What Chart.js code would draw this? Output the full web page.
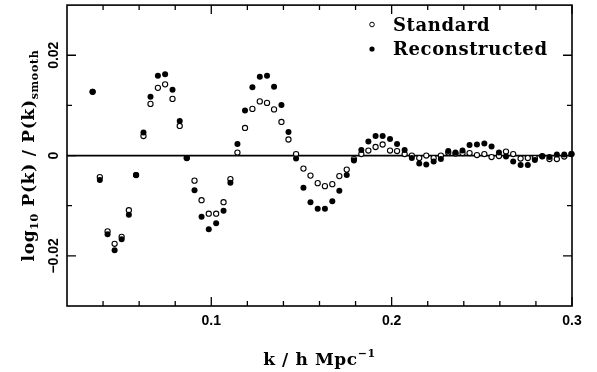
<!DOCTYPE html>
<html>
<head>
<meta charset="utf-8">
<script src="https://cdn.jsdelivr.net/npm/chart.js@4.4.1/dist/chart.umd.min.js"></script>
<style>
html, body { margin: 0; padding: 0; background: #fff; }
#wrap { width: 597px; height: 372px; }
</style>
</head>
<body>
<div id="wrap"><canvas id="myCanvas"></canvas></div>
<script>
// k values (h/Mpc) of the measured bins
var kValues = [0.0342, 0.0382, 0.0425, 0.0464, 0.0503, 0.0543, 0.0583, 0.0624, 0.0663, 0.0704,
    0.0744, 0.0785, 0.0825, 0.0864, 0.0907, 0.0946, 0.0986, 0.1027, 0.1068, 0.1106,
    0.1145, 0.1187, 0.1228, 0.1269, 0.1309, 0.1348, 0.1389, 0.1428, 0.1470, 0.1511,
    0.1550, 0.1590, 0.1630, 0.1671, 0.1710, 0.1751, 0.1791, 0.1832, 0.1871, 0.1911,
    0.1950, 0.1991, 0.2030, 0.2072, 0.2112, 0.2153, 0.2192, 0.2233, 0.2273, 0.2314,
    0.2354, 0.2393, 0.2432, 0.2473, 0.2514, 0.2554, 0.2595, 0.2634, 0.2674, 0.2715,
    0.2755, 0.2794, 0.2835, 0.2875, 0.2916, 0.2957, 0.2997];

// log10 P(k)/P(k)smooth, open circles
var standard = [0.0127, -0.0043, -0.0151, -0.0176, -0.0162, -0.0109, -0.0039, 0.0039, 0.0103, 0.0135,
    0.0142, 0.0113, 0.0059, -0.0005, -0.0050, -0.0089, -0.0116, -0.0116, -0.0093, -0.0047,
    0.0006, 0.0055, 0.0093, 0.0108, 0.0105, 0.0092, 0.0067, 0.0032, 0.0003, -0.0026,
    -0.0040, -0.0055, -0.0061, -0.0057, -0.0041, -0.0028, -0.0007, 0.0003, 0.0010, 0.0017,
    0.0022, 0.0010, 0.0009, 0.0003, 0.0000, -0.0005, 0.0000, -0.0005, 0.0000, 0.0006,
    0.0004, 0.0005, 0.0005, 0.0001, 0.0003, -0.0003, -0.0001, 0.0008, 0.0003, -0.0006,
    -0.0005, -0.0005, -0.0001, -0.0007, -0.0007, -0.0002, 0.0003];

// filled circles
var reconstructed = [0.0127, -0.0049, -0.0157, -0.0189, -0.0167, -0.0118, -0.0039, 0.0046, 0.0117, 0.0159,
    0.0162, 0.0131, 0.0069, -0.0005, -0.0069, -0.0122, -0.0147, -0.0135, -0.0110, -0.0054,
    0.0023, 0.0090, 0.0136, 0.0157, 0.0159, 0.0137, 0.0101, 0.0047, -0.0006, -0.0064,
    -0.0093, -0.0106, -0.0106, -0.0091, -0.0070, -0.0039, -0.0010, 0.0011, 0.0028, 0.0039,
    0.0039, 0.0033, 0.0023, 0.0011, -0.0005, -0.0016, -0.0018, -0.0012, -0.0007, 0.0009,
    0.0006, 0.0010, 0.0021, 0.0022, 0.0024, 0.0018, 0.0006, -0.0002, -0.0012, -0.0019,
    -0.0019, -0.0009, -0.0002, -0.0003, 0.0002, 0.0002, 0.0003];

var seriesNames = ['Standard', 'Reconstructed'];

var xRange = [0.02, 0.3];
var yRange = [-0.03, 0.03];
var xLabelTicks = [0.1, 0.2, 0.3];
var xTickLabels = ['0.1', '0.2', '0.3'];
var xMinorTicks = [0.04, 0.06, 0.08, 0.12, 0.14, 0.16, 0.18, 0.22, 0.24, 0.26, 0.28];
var yLabelTicks = [-0.02, 0, 0.02];
var yTickLabels = ['\u22120.02', '0', '0.02'];
var yMinorTicks = [-0.01, 0.01];

function toPoints(xs, ys) {
    var pts = [];
    for (var i = 0; i < xs.length; i++) {
        pts.push({x: xs[i], y: ys[i]});
    }
    return pts;
}

// draws a list of text pieces (for sub/superscripts), centred at 0,0
function drawPieces(ctx, pieces, spacing) {
    var total = 0;
    var i;
    ctx.letterSpacing = spacing + 'px';
    for (i = 0; i < pieces.length; i++) {
        ctx.font = pieces[i].font;
        pieces[i].w = ctx.measureText(pieces[i].text).width;
        total += pieces[i].w;
    }
    var x = -total / 2;
    ctx.textAlign = 'left';
    ctx.textBaseline = 'alphabetic';
    for (i = 0; i < pieces.length; i++) {
        ctx.font = pieces[i].font;
        ctx.fillText(pieces[i].text, x, pieces[i].dy);
        x += pieces[i].w;
    }
    ctx.letterSpacing = '0px';
}

var framePlugin = {
    id: 'frame',
    afterDatasetsDraw: function(chart) {
        var ctx = chart.ctx;
        var a = chart.chartArea;
        var xs = chart.scales.x;
        var ys = chart.scales.y;
        var i, p;
        ctx.save();
        ctx.strokeStyle = '#000';
        ctx.fillStyle = '#000';
        ctx.lineWidth = 1.6;
        ctx.strokeRect(a.left, a.top, a.right - a.left, a.bottom - a.top);

        ctx.lineWidth = 1.3;
        ctx.beginPath();
        for (i = 0; i < xLabelTicks.length; i++) {
            p = xs.getPixelForValue(xLabelTicks[i]);
            ctx.moveTo(p, a.bottom); ctx.lineTo(p, a.bottom - 9);
            ctx.moveTo(p, a.top); ctx.lineTo(p, a.top + 9);
        }
        for (i = 0; i < xMinorTicks.length; i++) {
            p = xs.getPixelForValue(xMinorTicks[i]);
            ctx.moveTo(p, a.bottom); ctx.lineTo(p, a.bottom - 5);
            ctx.moveTo(p, a.top); ctx.lineTo(p, a.top + 5);
        }
        for (i = 0; i < yLabelTicks.length; i++) {
            p = ys.getPixelForValue(yLabelTicks[i]);
            ctx.moveTo(a.left, p); ctx.lineTo(a.left + 9, p);
            ctx.moveTo(a.right, p); ctx.lineTo(a.right - 9, p);
        }
        for (i = 0; i < yMinorTicks.length; i++) {
            p = ys.getPixelForValue(yMinorTicks[i]);
            ctx.moveTo(a.left, p); ctx.lineTo(a.left + 5, p);
            ctx.moveTo(a.right, p); ctx.lineTo(a.right - 5, p);
        }
        ctx.stroke();

        // tick labels
        ctx.font = 'bold 14px "Liberation Sans", Arial, sans-serif';
        ctx.textAlign = 'center';
        ctx.textBaseline = 'alphabetic';
        for (i = 0; i < xLabelTicks.length; i++) {
            ctx.fillText(xTickLabels[i], xs.getPixelForValue(xLabelTicks[i]), a.bottom + 19);
        }
        for (i = 0; i < yLabelTicks.length; i++) {
            ctx.save();
            ctx.translate(a.left - 9, ys.getPixelForValue(yLabelTicks[i]));
            ctx.rotate(-Math.PI / 2);
            ctx.fillText(yTickLabels[i], 0, 0);
            ctx.restore();
        }

        // axis titles
        var big = 'bold 17px "DejaVu Serif", serif';
        var small = 'bold 11px "DejaVu Serif", serif';
        ctx.save();
        ctx.translate((a.left + a.right) / 2, a.bottom + 59);
        drawPieces(ctx, [
            {text: 'k / h Mpc', font: big, dy: 0},
            {text: '\u22121', font: small, dy: -8}
        ], 0.6);
        ctx.restore();

        ctx.save();
        ctx.translate(34, (a.top + a.bottom) / 2);
        ctx.rotate(-Math.PI / 2);
        drawPieces(ctx, [
            {text: 'log', font: big, dy: 0},
            {text: '10', font: small, dy: 4},
            {text: ' P(k) / P(k)', font: big, dy: 0},
            {text: 'smooth', font: small, dy: 4}
        ], 0.7);
        ctx.restore();

        // legend
        ctx.font = 'bold 18px "DejaVu Serif", serif';
        ctx.textAlign = 'left';
        ctx.letterSpacing = '0.6px';
        ctx.fillText(seriesNames[0], 393, 31);
        ctx.fillText(seriesNames[1], 393, 55);
        ctx.letterSpacing = '0px';
        ctx.lineWidth = 1;
        ctx.beginPath();
        ctx.arc(372, 24.5, 2.3, 0, Math.PI * 2);
        ctx.stroke();
        ctx.beginPath();
        ctx.arc(372, 49, 2.6, 0, Math.PI * 2);
        ctx.fill();
        ctx.restore();
    }
};

var ctx = document.getElementById('myCanvas').getContext('2d');
var chart = new Chart(ctx, {
    type: 'scatter',
    data: {
        datasets: [{
            label: seriesNames[1],
            data: toPoints(kValues, reconstructed),
            pointRadius: 3,
            pointBorderWidth: 0,
            pointBackgroundColor: '#000',
            pointBorderColor: '#000',
            order: 0,
            clip: false
        }, {
            label: seriesNames[0],
            data: toPoints(kValues, standard),
            pointRadius: 2.6,
            pointBorderWidth: 1.1,
            pointBackgroundColor: '#fff',
            pointBorderColor: '#000',
            order: 1,
            clip: false
        }, {
            type: 'line',
            label: 'zero',
            data: [{x: xRange[0], y: 0}, {x: xRange[1], y: 0}],
            borderColor: '#000',
            borderWidth: 1.8,
            pointRadius: 0,
            order: 2
        }]
    },
    plugins: [framePlugin],
    options: {
        responsive: true,
        maintainAspectRatio: false,
        animation: false,
        devicePixelRatio: 1,
        layout: { padding: { left: 67, right: 25, top: 5, bottom: 66 } },
        plugins: { legend: { display: false }, tooltip: { enabled: false } },
        scales: {
            x: { type: 'linear', min: xRange[0], max: xRange[1], display: false },
            y: { type: 'linear', min: yRange[0], max: yRange[1], display: false }
        }
    }
});
</script>
</body>
</html>
